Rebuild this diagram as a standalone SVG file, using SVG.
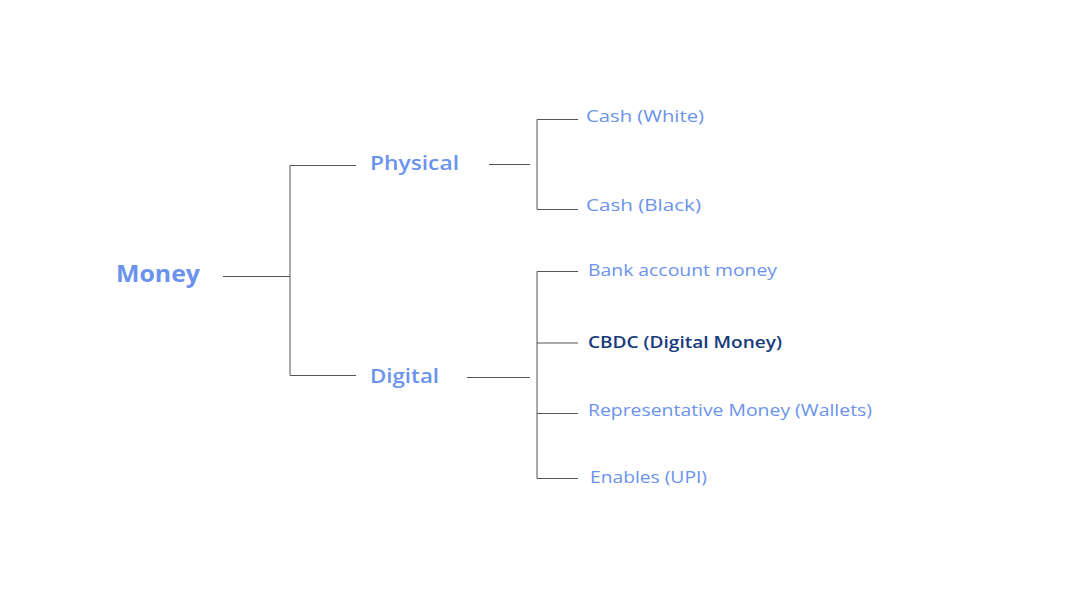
<svg xmlns="http://www.w3.org/2000/svg" width="1066" height="600" viewBox="0 0 1066 600">
<style>
.bg{fill:#ffffff}
.ln{stroke:#555555;stroke-width:1;fill:none}
.t{font-family:"Open Sans","Inter","Liberation Sans",sans-serif;fill:#6b93ee}
.root{font-size:24px;font-weight:700}
.mid{font-size:20px;font-weight:600}
.leaf{font-size:17px;font-weight:400}
.hl{fill:#163a7c;font-weight:600}
</style>
<rect class="bg" x="0" y="0" width="1066" height="600"/>
<g id="connectors">
<path class="ln" d="M223 276.5H290M290 165.5V375.5M290 165.5H356M290 375.5H356"/>
<path class="ln" d="M489 164.5H530M537 119.5V209.5M537 119.5H578M537 209.5H578"/>
<path class="ln" d="M467 377.5H530M537 271.5V478.5M537 271.5H578M537 343H578M537 413.5H578M537 478.5H578"/>
</g>
<g id="money"><text class="t root" x="116" y="282" textLength="84" lengthAdjust="spacingAndGlyphs">Money</text></g>
<g id="physical"><text class="t mid" x="370" y="169.5" textLength="89" lengthAdjust="spacingAndGlyphs">Physical</text></g>
<g id="digital"><text class="t mid" x="370" y="383" textLength="69" lengthAdjust="spacingAndGlyphs">Digital</text></g>
<g id="cash-white"><text class="t leaf" x="586" y="122" textLength="118" lengthAdjust="spacingAndGlyphs">Cash (White)</text></g>
<g id="cash-black"><text class="t leaf" x="586" y="210.5" textLength="115" lengthAdjust="spacingAndGlyphs">Cash (Black)</text></g>
<g id="bank"><text class="t leaf" x="588" y="276" textLength="189" lengthAdjust="spacingAndGlyphs">Bank account money</text></g>
<g id="cbdc"><text class="t leaf hl" x="588" y="347.5" textLength="194" lengthAdjust="spacingAndGlyphs">CBDC (Digital Money)</text></g>
<g id="representative"><text class="t leaf" x="588" y="415.5" textLength="284" lengthAdjust="spacingAndGlyphs">Representative Money (Wallets)</text></g>
<g id="enables"><text class="t leaf" x="590" y="483" textLength="117" lengthAdjust="spacingAndGlyphs">Enables (UPI)</text></g>
</svg>
